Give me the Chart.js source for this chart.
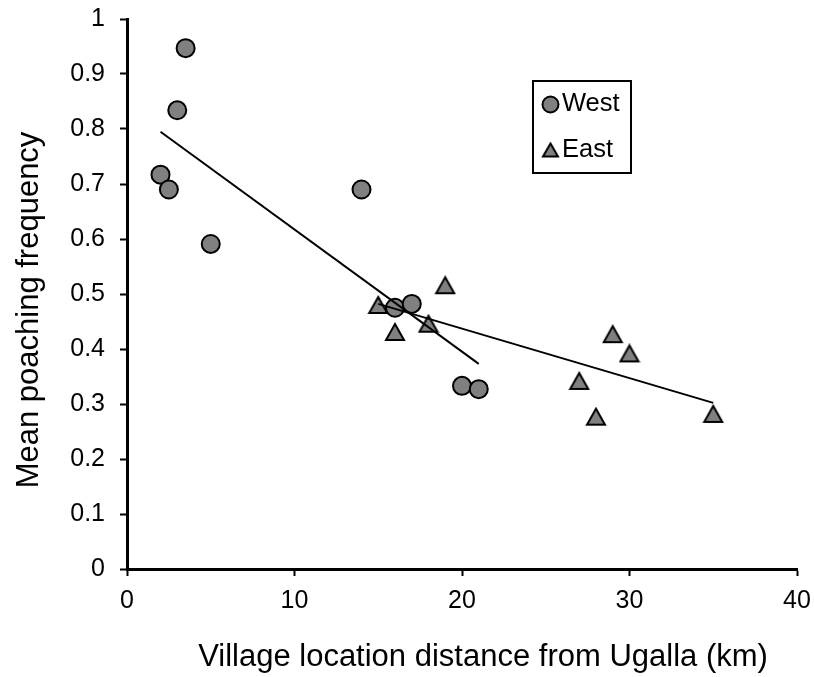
<!DOCTYPE html>
<html>
<head>
<meta charset="utf-8">
<script src="https://cdn.jsdelivr.net/npm/chart.js@4/dist/chart.umd.min.js"></script>
<style>
  html, body { margin: 0; padding: 0; background: #fff; }
  #wrap { width: 814px; height: 677px; }
</style>
</head>
<body>
<div id="wrap"><canvas id="poachChart" width="814" height="677"></canvas></div>
<script>
const westX = [2, 2.5, 3, 3.5, 5, 14, 16, 17, 20, 21];
const westY = [0.717, 0.690, 0.834, 0.947, 0.591, 0.690, 0.475, 0.482, 0.333, 0.327];
const eastX = [15, 16, 18, 19, 27, 28, 29, 30, 35];
const eastY = [0.480, 0.431, 0.446, 0.516, 0.342, 0.277, 0.427, 0.392, 0.282];

// trend lines (end points)
const westFitX = [2, 21];
const westFitY = [0.795, 0.373];
const eastFitX = [15, 35];
const eastFitY = [0.482, 0.302];

const xTicks = [0, 10, 20, 30, 40];
const yTicks = [0, 0.1, 0.2, 0.3, 0.4, 0.5, 0.6, 0.7, 0.8, 0.9, 1];

const xTitle = 'Village location distance from Ugalla (km)';
const yTitle = 'Mean poaching frequency';

const FONT = "'Liberation Sans', Arial, sans-serif";
const GREY = '#808080';

const toPts = (xs, ys) => xs.map((x, i) => ({x: x, y: ys[i]}));

// excel style triangle, centred on its bounding box
function triMarker(w, h, lw) {
  const c = document.createElement('canvas');
  c.width = w; c.height = h;
  const g = c.getContext('2d');
  g.beginPath();
  g.moveTo(w / 2, lw);
  g.lineTo(w - lw, h - lw / 2 - 1);
  g.lineTo(lw, h - lw / 2 - 1);
  g.closePath();
  g.fillStyle = GREY;
  g.fill();
  g.lineWidth = lw;
  g.lineJoin = 'miter';
  g.strokeStyle = '#000';
  g.stroke();
  return c;
}
const triBig = triMarker(22, 20, 2);
const triSmall = triMarker(19, 17, 2);

// axis titles sit a bit off-centre in the original, so draw them by hand
const axisTitles = {
  id: 'axisTitles',
  afterDraw(chart) {
    const c = chart.ctx;
    c.save();
    c.fillStyle = '#000';
    c.font = '31px ' + FONT;
    c.textAlign = 'center';
    c.textBaseline = 'alphabetic';
    c.fillText(xTitle, 483, 666);
    c.translate(38, 310);
    c.rotate(-Math.PI / 2);
    c.fillText(yTitle, 0, 0);
    c.restore();
  }
};

// legend box inside the plot, like the excel one
const boxLegend = {
  id: 'boxLegend',
  afterDraw(chart) {
    const c = chart.ctx;
    c.save();
    c.lineWidth = 2;
    c.strokeStyle = '#000';
    c.strokeRect(533, 81, 98, 92);
    c.beginPath();
    c.arc(550.5, 104.5, 8, 0, Math.PI * 2);
    c.fillStyle = GREY;
    c.fill();
    c.stroke();
    c.drawImage(triSmall, 550.5 - triSmall.width / 2, 150 - triSmall.height / 2);
    c.fillStyle = '#000';
    c.font = '25.5px ' + FONT;
    c.textBaseline = 'middle';
    c.textAlign = 'left';
    c.fillText(chart.data.datasets[0].label, 562, 104);
    c.fillText(chart.data.datasets[1].label, 562, 150);
    c.restore();
  }
};

const noPad = s => { s.paddingTop = 0; s.paddingBottom = 0; s.paddingLeft = 0; s.paddingRight = 0; };

const ctx = document.getElementById('poachChart').getContext('2d');

new Chart(ctx, {
  type: 'scatter',
  data: {
    datasets: [
      {
        label: 'West',
        data: toPts(westX, westY),
        pointStyle: 'circle',
        pointRadius: 9,
        pointHoverRadius: 9,
        backgroundColor: GREY,
        borderColor: '#000',
        borderWidth: 2,
        order: 2
      },
      {
        label: 'East',
        data: toPts(eastX, eastY),
        pointStyle: triBig,
        pointRadius: 10,
        backgroundColor: GREY,
        borderColor: '#000',
        order: 2
      },
      {
        label: 'West trend',
        data: toPts(westFitX, westFitY),
        showLine: true,
        pointRadius: 0,
        borderColor: '#000',
        borderWidth: 2,
        order: 0
      },
      {
        label: 'East trend',
        data: toPts(eastFitX, eastFitY),
        showLine: true,
        pointRadius: 0,
        borderColor: '#000',
        borderWidth: 2,
        order: 0
      }
    ]
  },
  options: {
    responsive: false,
    animation: false,
    layout: { padding: { top: 19, right: 17, bottom: 0, left: 0 } },
    plugins: {
      legend: { display: false },
      tooltip: { enabled: false }
    },
    scales: {
      x: {
        type: 'linear',
        min: 0,
        max: 40,
        afterBuildTicks: s => { s.ticks = xTicks.map(v => ({value: v})); },
        afterFit: s => { s.height = 108; noPad(s); },
        border: { display: true, color: '#000', width: 3 },
        grid: { drawOnChartArea: false, drawTicks: true, tickLength: 7, tickWidth: 2, tickColor: '#000' },
        ticks: { color: '#000', padding: 10, font: { family: FONT, size: 25 }, callback: v => String(v) }
      },
      y: {
        type: 'linear',
        min: 0,
        max: 1,
        afterBuildTicks: s => { s.ticks = yTicks.map(v => ({value: v})); },
        afterFit: s => { s.width = 127; noPad(s); },
        border: { display: true, color: '#000', width: 3 },
        grid: { drawOnChartArea: false, drawTicks: true, tickLength: 7, tickWidth: 2, tickColor: '#000' },
        ticks: { color: '#000', padding: 15, font: { family: FONT, size: 25 }, callback: v => String(v) }
      }
    }
  },
  plugins: [axisTitles, boxLegend]
});
</script>
</body>
</html>
